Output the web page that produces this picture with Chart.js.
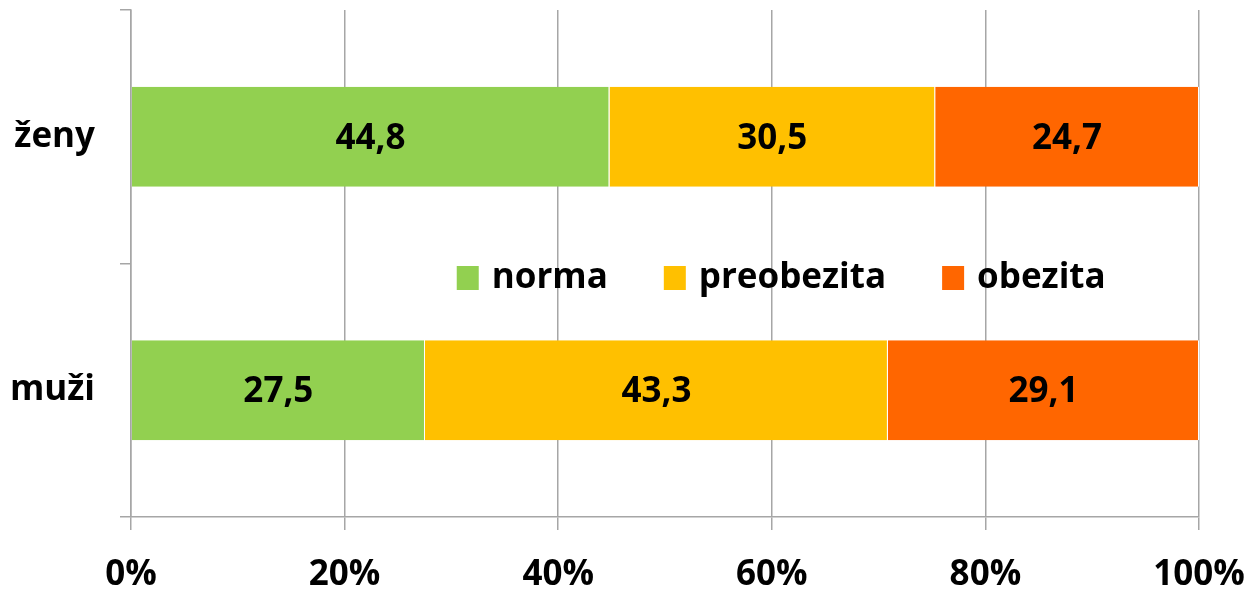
<!DOCTYPE html>
<html>
<head>
<meta charset="utf-8">
<title>Hmotnost podle BMI</title>
<script src="https://cdn.jsdelivr.net/npm/chart.js"></script>
<style>
    body { margin: 0; background: #fff; }
    #wrap { width: 1250px; height: 595px; }
</style>
</head>
<body>
<div id="wrap"><canvas id="chart"></canvas></div>

<script>
    // data
    const categories = ['ženy', 'muži'];
    const seriesNames = ['norma', 'preobezita', 'obezita'];
    const norma = [44.8, 27.5];
    const preobezita = [30.5, 43.3];
    const obezita = [24.7, 29.1];
    const xTickValues = [0, 20, 40, 60, 80, 100];

    const colors = ['#92D050', '#FFC000', '#FF6600'];
    const gridColor = '#a6a6a6';
    const FONT = '"Open Sans", "Noto Sans", sans-serif';

    // 100% stacked: every bar scaled to its own total
    const rows = [norma, preobezita, obezita];
    const totals = categories.map((c, i) => rows.reduce((s, r) => s + r[i], 0));

    const datasets = rows.map((r, k) => ({
        label: seriesNames[k],
        data: r.map((v, i) => v / totals[i] * 100),
        raw: r,
        backgroundColor: colors[k],
        borderColor: '#ffffff',
        borderWidth: { left: 0, top: 0, bottom: 0, right: 1 },
        borderSkipped: false,
        barPercentage: 0.395,
        categoryPercentage: 1
    }));

    // numbers in the middle of each segment
    const segmentLabels = {
        id: 'segmentLabels',
        afterDatasetsDraw(chart) {
            const ctx = chart.ctx;
            ctx.save();
            ctx.font = 'bold 35px ' + FONT;
            ctx.fillStyle = '#000';
            ctx.textAlign = 'center';
            ctx.textBaseline = 'middle';
            chart.data.datasets.forEach((ds, k) => {
                chart.getDatasetMeta(k).data.forEach((bar, i) => {
                    const p = bar.getCenterPoint();
                    ctx.fillText(ds.raw[i].toFixed(1).replace('.', ','), p.x, p.y + 2);
                });
            });
            ctx.restore();
        }
    };

    // legend sits inside the plot, between the two bars
    const innerLegend = {
        id: 'innerLegend',
        afterDraw(chart) {
            const ctx = chart.ctx;
            const area = chart.chartArea;
            let x = area.left + 0.305 * (area.right - area.left);
            const y = 278;
            ctx.save();
            ctx.font = 'bold 35px ' + FONT;
            ctx.textBaseline = 'middle';
            ctx.textAlign = 'left';
            chart.data.datasets.forEach(ds => {
                ctx.fillStyle = ds.backgroundColor;
                ctx.fillRect(x, y - 12, 22, 24);
                ctx.fillStyle = '#000';
                ctx.fillText(ds.label, x + 35, y);
                x += 35 + ctx.measureText(ds.label).width + 56;
            });
            ctx.restore();
        }
    };

    document.fonts.load('bold 35px "Open Sans"').finally(() => {
        new Chart(document.getElementById('chart'), {
            type: 'bar',
            data: { labels: categories, datasets: datasets },
            options: {
                indexAxis: 'y',
                responsive: true,
                maintainAspectRatio: false,
                animation: false,
                layout: { padding: { top: 10, right: 51, left: 0, bottom: 0 } },
                plugins: {
                    legend: { display: false },
                    tooltip: { enabled: false }
                },
                scales: {
                    x: {
                        stacked: true,
                        min: 0,
                        max: 100,
                        afterBuildTicks: s => { s.ticks = xTickValues.map(v => ({ value: v })); },
                        afterFit: s => {
                            s.height = 78;
                            s.paddingLeft = 0;
                            s.paddingRight = 0;
                        },
                        border: { color: gridColor, width: 1.5 },
                        grid: { color: gridColor, lineWidth: 1.5, tickLength: 13 },
                        ticks: {
                            callback: v => v + '%',
                            color: '#000',
                            padding: 24,
                            maxRotation: 0,
                            font: { family: FONT, size: 35, weight: 'bold' }
                        }
                    },
                    y: {
                        stacked: true,
                        afterFit: s => {
                            s.width = 131;
                            s.paddingTop = 0;
                            s.paddingBottom = 0;
                        },
                        border: { color: gridColor, width: 1.5 },
                        grid: {
                            offset: true,
                            drawOnChartArea: false,
                            color: gridColor,
                            lineWidth: 1.5,
                            tickLength: 11
                        },
                        ticks: {
                            color: '#000',
                            padding: 25,
                            font: { family: FONT, size: 35, weight: 'bold' }
                        }
                    }
                }
            },
            plugins: [segmentLabels, innerLegend]
        });
    });
</script>
</body>
</html>
